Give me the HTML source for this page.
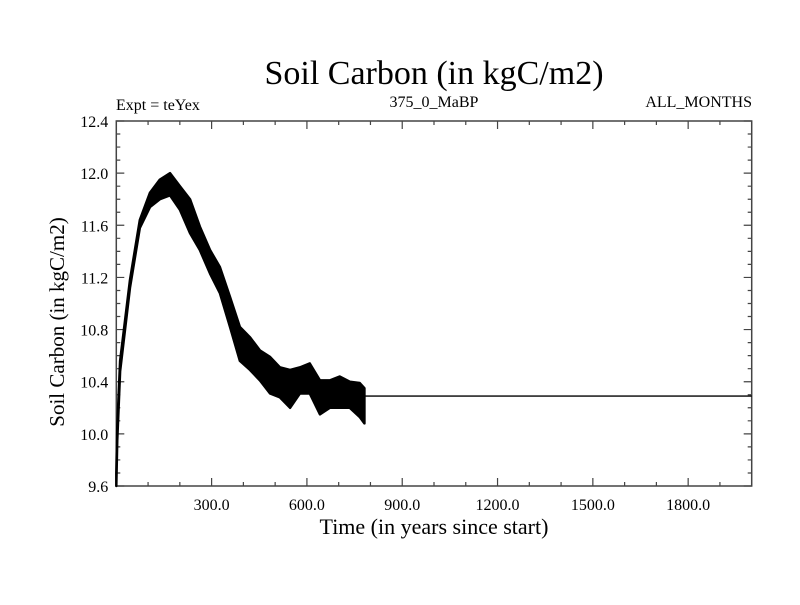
<!DOCTYPE html>
<html><head><meta charset="utf-8"><style>
body{margin:0;background:#fff}
svg text{font-family:"Liberation Serif",serif;fill:#000}
</style></head><body>
<svg id="chart" width="800" height="600" xmlns="http://www.w3.org/2000/svg">
<rect width="800" height="600" fill="#fff"/>
<text x="434" y="84" font-size="34" text-anchor="middle">Soil Carbon (in kgC/m2)</text>
<text x="116" y="110" font-size="16">Expt = teYex</text>
<text x="434" y="107" font-size="16" text-anchor="middle">375_0_MaBP</text>
<text x="752" y="107" font-size="16" text-anchor="end">ALL_MONTHS</text>
<text x="434" y="534" font-size="22" text-anchor="middle">Time (in years since start)</text>
<text transform="translate(64,322) rotate(-90)" font-size="21" text-anchor="middle">Soil Carbon (in kgC/m2)</text>
<g id="axes"></g>
<g id="series"></g>
</svg>
<script>
const years = [0,3,12,43,74,106,137,169,200,232,263,295,326,358,389,421,452,484,515,547,578,609,641,672,703,735,766,781];
const upperVals = [9.7,10.05,10.56,11.18,11.64,11.85,11.95,12.0,11.9,11.8,11.59,11.41,11.28,11.05,10.82,10.74,10.64,10.59,10.51,10.49,10.51,10.54,10.41,10.41,10.44,10.4,10.39,10.35];
const lowerVals = [9.6,9.95,10.48,11.12,11.58,11.74,11.8,11.83,11.72,11.54,11.41,11.23,11.08,10.82,10.56,10.49,10.41,10.31,10.28,10.2,10.31,10.31,10.15,10.2,10.2,10.2,10.13,10.08];
const flatStart = 781, flatEnd = 2000, flatVal = 10.29;
const xTicks = [300,600,900,1200,1500,1800];
const xTickLabels = ["300.0","600.0","900.0","1200.0","1500.0","1800.0"];
const yTicks = [9.6,10.0,10.4,10.8,11.2,11.6,12.0,12.4];
const yTickLabels = ["9.6","10.0","10.4","10.8","11.2","11.6","12.0","12.4"];

const L=116.3,R=751.7,T=121,B=486, X0=0,X1=2000,Y0=9.6,Y1=12.4;
const sx=v=>L+(v-X0)/(X1-X0)*(R-L);
const sy=v=>B-(v-Y0)/(Y1-Y0)*(B-T);
const NS="http://www.w3.org/2000/svg";
function mk(tag,attrs,parent){const e=document.createElementNS(NS,tag);for(const k in attrs)e.setAttribute(k,attrs[k]);parent.appendChild(e);return e;}
const ax=document.getElementById('axes'), se=document.getElementById('series');

const frame=mk('rect',{x:L,y:T,width:R-L,height:B-T,fill:'none',stroke:'#444','stroke-width':1.5},ax);



let d='';
for(let v=100;v<X1;v+=100){const x=sx(v),len=(v%300===0)?8:4;d+=`M${x},${B}v${-len}M${x},${T}v${len}`;}
for(let i=0;i<=28;i++){const v=Y0+i*0.1,y=sy(v),len=(i%4===0)?8:4;d+=`M${L},${y}h${len}M${R},${y}h${-len}`;}
const ticks=mk('path',{d:d,stroke:'#444','stroke-width':1.2,fill:'none'},ax);



xTicks.forEach((v,i)=>{const t=mk('text',{x:sx(v),y:B+24,'font-size':16,'text-anchor':'middle'},ax);t.textContent=xTickLabels[i];

});
yTicks.forEach((v,i)=>{const t=mk('text',{x:L-8,y:sy(v)+6,'font-size':16,'text-anchor':'end'},ax);t.textContent=yTickLabels[i];

});

let p='';
years.forEach((v,i)=>{p+=(i?'L':'M')+sx(v)+','+sy(upperVals[i]);});
for(let i=years.length-1;i>=0;i--)p+='L'+sx(years[i])+','+sy(lowerVals[i]);
p+='Z';
const band=mk('path',{d:p,fill:'#000',stroke:'#000','stroke-width':2.5,'stroke-linejoin':'round'},se);



const flat=mk('line',{x1:sx(flatStart),y1:sy(flatVal),x2:sx(flatEnd),y2:sy(flatVal),stroke:'#000','stroke-width':1.3},se);


</script>
</body></html>
